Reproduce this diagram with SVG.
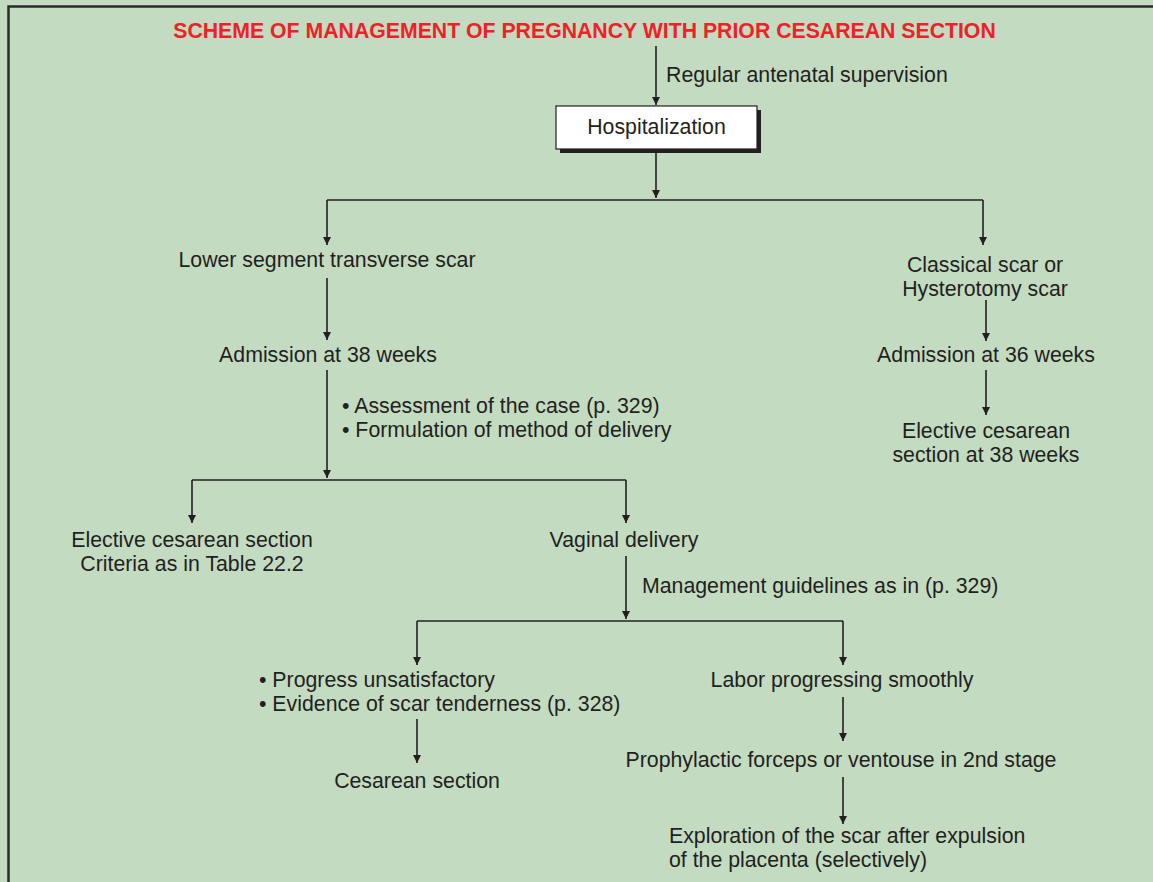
<svg xmlns="http://www.w3.org/2000/svg" width="1153" height="882" viewBox="0 0 1153 882">
<defs>
<marker id="ah" markerWidth="8" markerHeight="10" refX="8" refY="4" orient="auto" markerUnits="userSpaceOnUse">
<path d="M0,0 L8,4 L0,8 Z" fill="#231f20"/>
</marker>
<style>
.t{font-family:"Liberation Sans",Arial,sans-serif;font-size:21.3px;fill:#231f20}
.c{text-anchor:middle}
.ln{fill:none;stroke:#231f20;stroke-width:1.6}
.ar{marker-end:url(#ah)}
</style>
</defs>
<rect x="0" y="0" width="1153" height="882" fill="#c3dbc1"/>
<rect x="8.5" y="6.5" width="1160" height="900" fill="#c3dbc1" stroke="#2b2b2b" stroke-width="2.5"/>
<text x="584.5" y="38" font-family="Liberation Sans,Arial,sans-serif" font-size="21.25" font-weight="bold" fill="#ee2226" text-anchor="middle">SCHEME OF MANAGEMENT OF PREGNANCY WITH PRIOR CESAREAN SECTION</text>
<g id="connectors">
<path class="ln ar" d="M656,46 V105"/>
<path class="ln ar" d="M656,150 V198"/>
<path class="ln" d="M327,200 H983"/>
<path class="ln ar" d="M327,200 V245"/>
<path class="ln ar" d="M983,200 V245"/>
<path class="ln ar" d="M327,278 V340"/>
<path class="ln ar" d="M327,370 V478"/>
<path class="ln" d="M192,480 H626"/>
<path class="ln ar" d="M192,480 V523"/>
<path class="ln ar" d="M626,480 V523"/>
<path class="ln ar" d="M986,300 V341"/>
<path class="ln ar" d="M986,370 V415"/>
<path class="ln ar" d="M626,556 V619"/>
<path class="ln" d="M417,621 H843"/>
<path class="ln ar" d="M417,621 V665"/>
<path class="ln ar" d="M843,621 V665"/>
<path class="ln ar" d="M417,719 V763"/>
<path class="ln ar" d="M843,697 V741"/>
<path class="ln ar" d="M843,777 V824"/>
</g>
<text id="lbl-regular" class="t" x="666" y="82">Regular antenatal supervision</text>
<g id="hospitalization">
<rect x="560" y="110" width="201" height="43" fill="#231f20"/>
<rect x="556" y="106" width="201" height="43" fill="#ffffff" stroke="#231f20" stroke-width="1.2"/>
<text class="t c" x="656.5" y="134">Hospitalization</text>
</g>
<g id="lower-segment"><text class="t c" x="327" y="267">Lower segment transverse scar</text></g>
<g id="classical"><text class="t c" x="985" y="272">Classical scar or</text><text class="t c" x="985" y="296">Hysterotomy scar</text></g>
<g id="admission-38"><text class="t c" x="328" y="362">Admission at 38 weeks</text></g>
<g id="admission-36"><text class="t c" x="986" y="362">Admission at 36 weeks</text></g>
<g id="elective-38"><text class="t c" x="986" y="438">Elective cesarean</text><text class="t c" x="986" y="462">section at 38 weeks</text></g>
<g id="assessment"><text class="t" x="342" y="413">• Assessment of the case (p. 329)</text><text class="t" x="342" y="437">• Formulation of method of delivery</text></g>
<g id="elective-cs"><text class="t c" x="192" y="547">Elective cesarean section</text><text class="t c" x="192" y="571">Criteria as in Table 22.2</text></g>
<g id="vaginal"><text class="t c" x="624" y="547">Vaginal delivery</text></g>
<text id="lbl-guidelines" class="t" x="642" y="593">Management guidelines as in (p. 329)</text>
<g id="progress"><text class="t" x="259" y="687">• Progress unsatisfactory</text><text class="t" x="259" y="711">• Evidence of scar tenderness (p. 328)</text></g>
<g id="labor"><text class="t c" x="842" y="687">Labor progressing smoothly</text></g>
<g id="cesarean"><text class="t c" x="417" y="788">Cesarean section</text></g>
<g id="prophylactic"><text class="t c" x="841" y="767">Prophylactic forceps or ventouse in 2nd stage</text></g>
<g id="exploration"><text class="t" x="669" y="843">Exploration of the scar after expulsion</text><text class="t" x="669" y="867">of the placenta (selectively)</text></g>
</svg>
